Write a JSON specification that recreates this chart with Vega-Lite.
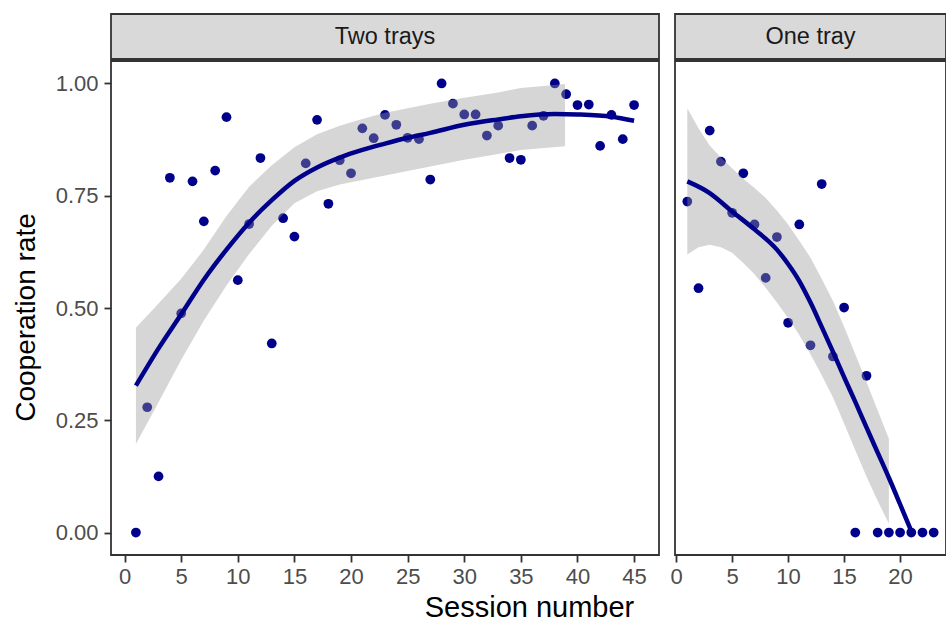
{
  "$schema": "https://vega.github.io/schema/vega-lite/v6.json",
  "padding": {"left": 11, "top": 13, "right": 0, "bottom": 0},
  "background": "white",
  "config": {
    "font": "Liberation Sans",
    "view": {"stroke": "#333333", "strokeWidth": 1.8},
    "axis": {
      "grid": false, "domain": false,
      "tickColor": "#333333", "tickWidth": 1.8, "tickSize": 7,
      "labelColor": "#4D4D4D", "labelFontSize": 22, "labelFont": "Liberation Sans",
      "titleColor": "#000000", "titleFontSize": 28, "titleFont": "Liberation Sans", "titleFontWeight": "normal"
    }
  },
  "datasets": {
    "points": [
      {"panel": "Two trays", "session": 1, "rate": 0.0},
      {"panel": "Two trays", "session": 2, "rate": 0.279},
      {"panel": "Two trays", "session": 3, "rate": 0.125},
      {"panel": "Two trays", "session": 4, "rate": 0.79},
      {"panel": "Two trays", "session": 5, "rate": 0.488},
      {"panel": "Two trays", "session": 6, "rate": 0.782},
      {"panel": "Two trays", "session": 7, "rate": 0.693},
      {"panel": "Two trays", "session": 8, "rate": 0.806},
      {"panel": "Two trays", "session": 9, "rate": 0.925},
      {"panel": "Two trays", "session": 10, "rate": 0.562},
      {"panel": "Two trays", "session": 11, "rate": 0.687},
      {"panel": "Two trays", "session": 12, "rate": 0.834},
      {"panel": "Two trays", "session": 13, "rate": 0.421},
      {"panel": "Two trays", "session": 14, "rate": 0.7},
      {"panel": "Two trays", "session": 15, "rate": 0.659},
      {"panel": "Two trays", "session": 16, "rate": 0.822},
      {"panel": "Two trays", "session": 17, "rate": 0.919},
      {"panel": "Two trays", "session": 18, "rate": 0.732},
      {"panel": "Two trays", "session": 19, "rate": 0.829},
      {"panel": "Two trays", "session": 20, "rate": 0.8},
      {"panel": "Two trays", "session": 21, "rate": 0.9},
      {"panel": "Two trays", "session": 22, "rate": 0.878},
      {"panel": "Two trays", "session": 23, "rate": 0.93},
      {"panel": "Two trays", "session": 24, "rate": 0.908},
      {"panel": "Two trays", "session": 25, "rate": 0.879},
      {"panel": "Two trays", "session": 26, "rate": 0.876},
      {"panel": "Two trays", "session": 27, "rate": 0.786},
      {"panel": "Two trays", "session": 28, "rate": 1.0},
      {"panel": "Two trays", "session": 29, "rate": 0.955},
      {"panel": "Two trays", "session": 30, "rate": 0.931},
      {"panel": "Two trays", "session": 31, "rate": 0.931},
      {"panel": "Two trays", "session": 32, "rate": 0.884},
      {"panel": "Two trays", "session": 33, "rate": 0.906},
      {"panel": "Two trays", "session": 34, "rate": 0.834},
      {"panel": "Two trays", "session": 35, "rate": 0.83},
      {"panel": "Two trays", "session": 36, "rate": 0.906},
      {"panel": "Two trays", "session": 37, "rate": 0.928},
      {"panel": "Two trays", "session": 38, "rate": 1.0},
      {"panel": "Two trays", "session": 39, "rate": 0.976},
      {"panel": "Two trays", "session": 40, "rate": 0.952},
      {"panel": "Two trays", "session": 41, "rate": 0.953},
      {"panel": "Two trays", "session": 42, "rate": 0.861},
      {"panel": "Two trays", "session": 43, "rate": 0.93},
      {"panel": "Two trays", "session": 44, "rate": 0.876},
      {"panel": "Two trays", "session": 45, "rate": 0.952},
      {"panel": "One tray", "session": 1, "rate": 0.737},
      {"panel": "One tray", "session": 2, "rate": 0.544},
      {"panel": "One tray", "session": 3, "rate": 0.895},
      {"panel": "One tray", "session": 4, "rate": 0.826},
      {"panel": "One tray", "session": 5, "rate": 0.712},
      {"panel": "One tray", "session": 6, "rate": 0.8},
      {"panel": "One tray", "session": 7, "rate": 0.686},
      {"panel": "One tray", "session": 8, "rate": 0.567},
      {"panel": "One tray", "session": 9, "rate": 0.658},
      {"panel": "One tray", "session": 10, "rate": 0.467},
      {"panel": "One tray", "session": 11, "rate": 0.686},
      {"panel": "One tray", "session": 12, "rate": 0.417},
      {"panel": "One tray", "session": 13, "rate": 0.776},
      {"panel": "One tray", "session": 14, "rate": 0.392},
      {"panel": "One tray", "session": 15, "rate": 0.501},
      {"panel": "One tray", "session": 16, "rate": 0.0},
      {"panel": "One tray", "session": 17, "rate": 0.349},
      {"panel": "One tray", "session": 18, "rate": 0.0},
      {"panel": "One tray", "session": 19, "rate": 0.0},
      {"panel": "One tray", "session": 20, "rate": 0.0},
      {"panel": "One tray", "session": 21, "rate": 0.0},
      {"panel": "One tray", "session": 22, "rate": 0.0},
      {"panel": "One tray", "session": 23, "rate": 0.0}
    ],
    "fit": [
      {"panel": "Two trays", "session": 1, "fit": 0.327},
      {"panel": "Two trays", "session": 3, "fit": 0.41},
      {"panel": "Two trays", "session": 5, "fit": 0.486},
      {"panel": "Two trays", "session": 7, "fit": 0.563},
      {"panel": "Two trays", "session": 9, "fit": 0.63},
      {"panel": "Two trays", "session": 11, "fit": 0.69},
      {"panel": "Two trays", "session": 13, "fit": 0.74},
      {"panel": "Two trays", "session": 15, "fit": 0.783},
      {"panel": "Two trays", "session": 17, "fit": 0.813},
      {"panel": "Two trays", "session": 19, "fit": 0.835},
      {"panel": "Two trays", "session": 21, "fit": 0.852},
      {"panel": "Two trays", "session": 23, "fit": 0.866},
      {"panel": "Two trays", "session": 25, "fit": 0.879},
      {"panel": "Two trays", "session": 27, "fit": 0.89},
      {"panel": "Two trays", "session": 30, "fit": 0.908},
      {"panel": "Two trays", "session": 33, "fit": 0.92},
      {"panel": "Two trays", "session": 35, "fit": 0.927},
      {"panel": "Two trays", "session": 38, "fit": 0.932},
      {"panel": "Two trays", "session": 40, "fit": 0.931},
      {"panel": "Two trays", "session": 43, "fit": 0.926},
      {"panel": "Two trays", "session": 45, "fit": 0.917},
      {"panel": "One tray", "session": 1, "fit": 0.782},
      {"panel": "One tray", "session": 3, "fit": 0.756},
      {"panel": "One tray", "session": 5, "fit": 0.715},
      {"panel": "One tray", "session": 7, "fit": 0.675},
      {"panel": "One tray", "session": 9, "fit": 0.63},
      {"panel": "One tray", "session": 10, "fit": 0.598},
      {"panel": "One tray", "session": 11, "fit": 0.56},
      {"panel": "One tray", "session": 12, "fit": 0.512},
      {"panel": "One tray", "session": 13, "fit": 0.458},
      {"panel": "One tray", "session": 14, "fit": 0.403},
      {"panel": "One tray", "session": 15, "fit": 0.346},
      {"panel": "One tray", "session": 16, "fit": 0.291},
      {"panel": "One tray", "session": 17, "fit": 0.234},
      {"panel": "One tray", "session": 18, "fit": 0.178},
      {"panel": "One tray", "session": 19, "fit": 0.122},
      {"panel": "One tray", "session": 20, "fit": 0.063},
      {"panel": "One tray", "session": 21, "fit": 0.003}
    ],
    "band": [
      {"panel": "Two trays", "session": 1, "lo": 0.197, "hi": 0.456},
      {"panel": "Two trays", "session": 3, "lo": 0.29, "hi": 0.51},
      {"panel": "Two trays", "session": 5, "lo": 0.385, "hi": 0.565},
      {"panel": "Two trays", "session": 7, "lo": 0.472, "hi": 0.63},
      {"panel": "Two trays", "session": 9, "lo": 0.55, "hi": 0.705},
      {"panel": "Two trays", "session": 11, "lo": 0.62, "hi": 0.77},
      {"panel": "Two trays", "session": 13, "lo": 0.683, "hi": 0.818},
      {"panel": "Two trays", "session": 15, "lo": 0.733, "hi": 0.858},
      {"panel": "Two trays", "session": 17, "lo": 0.76, "hi": 0.887},
      {"panel": "Two trays", "session": 19, "lo": 0.775, "hi": 0.906},
      {"panel": "Two trays", "session": 21, "lo": 0.785, "hi": 0.921},
      {"panel": "Two trays", "session": 23, "lo": 0.795, "hi": 0.935},
      {"panel": "Two trays", "session": 25, "lo": 0.805, "hi": 0.945},
      {"panel": "Two trays", "session": 27, "lo": 0.815, "hi": 0.955},
      {"panel": "Two trays", "session": 30, "lo": 0.83, "hi": 0.968},
      {"panel": "Two trays", "session": 33, "lo": 0.843, "hi": 0.98},
      {"panel": "Two trays", "session": 35, "lo": 0.852, "hi": 0.99},
      {"panel": "Two trays", "session": 38.9, "lo": 0.86, "hi": 0.999},
      {"panel": "One tray", "session": 1, "lo": 0.619, "hi": 0.945},
      {"panel": "One tray", "session": 2, "lo": 0.635, "hi": 0.9},
      {"panel": "One tray", "session": 3, "lo": 0.641, "hi": 0.862},
      {"panel": "One tray", "session": 4, "lo": 0.635, "hi": 0.835},
      {"panel": "One tray", "session": 5, "lo": 0.623, "hi": 0.811},
      {"panel": "One tray", "session": 6, "lo": 0.6, "hi": 0.788},
      {"panel": "One tray", "session": 7, "lo": 0.575, "hi": 0.767},
      {"panel": "One tray", "session": 8, "lo": 0.545, "hi": 0.745},
      {"panel": "One tray", "session": 9, "lo": 0.512, "hi": 0.717},
      {"panel": "One tray", "session": 10, "lo": 0.478, "hi": 0.686},
      {"panel": "One tray", "session": 11, "lo": 0.44, "hi": 0.65},
      {"panel": "One tray", "session": 12, "lo": 0.397, "hi": 0.612},
      {"panel": "One tray", "session": 13, "lo": 0.35, "hi": 0.565},
      {"panel": "One tray", "session": 14, "lo": 0.301, "hi": 0.516},
      {"panel": "One tray", "session": 15, "lo": 0.243, "hi": 0.458},
      {"panel": "One tray", "session": 16, "lo": 0.183, "hi": 0.397},
      {"panel": "One tray", "session": 17, "lo": 0.125, "hi": 0.335},
      {"panel": "One tray", "session": 18, "lo": 0.07, "hi": 0.272},
      {"panel": "One tray", "session": 19, "lo": 0.02, "hi": 0.209}
    ],
    "strips": [
      {"panel": "Two trays"},
      {"panel": "One tray"}
    ]
  },
  "hconcat": [
    {
      "spacing": 0,
      "vconcat": [
        {
          "width": 548, "height": 45,
          "view": {"fill": "#D9D9D9", "stroke": "#333333", "strokeWidth": 1.8},
          "data": {"name": "strips"},
          "transform": [{"filter": "datum.panel === 'Two trays'"}],
          "mark": {"type": "text", "fontSize": 23.5, "color": "#1A1A1A", "font": "Liberation Sans"},
          "encoding": {"text": {"field": "panel"}}
        },
        {
          "width": 548, "height": 494,
          "layer": [
            {
              "data": {"name": "points"},
              "transform": [{"filter": "datum.panel === 'Two trays'"}],
              "mark": {"type": "circle", "size": 95, "color": "#00008B", "opacity": 1},
              "encoding": {
                "x": {"field": "session", "type": "quantitative",
                      "scale": {"domain": [-1.2, 47.2], "nice": false, "zero": false},
                      "axis": {"values": [0,5,10,15,20,25,30,35,40,45], "title": "Session number", "titleFontSize": 29, "titleX": 418, "titlePadding": 6, "labelPadding": 4}},
                "y": {"field": "rate", "type": "quantitative",
                      "scale": {"domain": [-0.05, 1.05], "nice": false, "zero": false},
                      "axis": {"values": [0, 0.25, 0.5, 0.75, 1], "format": ".2f", "title": "Cooperation rate", "titleY": 256, "labelPadding": 6, "titlePadding": 15}}
              }
            },
            {
              "data": {"name": "band"},
              "transform": [{"filter": "datum.panel === 'Two trays'"}],
              "mark": {"type": "area", "color": "#999999", "opacity": 0.4},
              "encoding": {
                "x": {"field": "session", "type": "quantitative"},
                "y": {"field": "lo", "type": "quantitative"},
                "y2": {"field": "hi"}
              }
            },
            {
              "data": {"name": "fit"},
              "transform": [{"filter": "datum.panel === 'Two trays'"}],
              "mark": {"type": "line", "color": "#00008B", "strokeWidth": 4.5, "interpolate": "monotone"},
              "encoding": {
                "x": {"field": "session", "type": "quantitative"},
                "y": {"field": "fit", "type": "quantitative"}
              }
            }
          ]
        }
      ]
    },
    {
      "spacing": 0,
      "vconcat": [
        {
          "width": 271, "height": 45,
          "view": {"fill": "#D9D9D9", "stroke": "#333333", "strokeWidth": 1.8},
          "data": {"name": "strips"},
          "transform": [{"filter": "datum.panel === 'One tray'"}],
          "mark": {"type": "text", "fontSize": 23.5, "color": "#1A1A1A", "font": "Liberation Sans"},
          "encoding": {"text": {"field": "panel"}}
        },
        {
          "width": 271, "height": 494,
          "layer": [
            {
              "data": {"name": "points"},
              "transform": [{"filter": "datum.panel === 'One tray'"}],
              "mark": {"type": "circle", "size": 95, "color": "#00008B", "opacity": 1},
              "encoding": {
                "x": {"field": "session", "type": "quantitative",
                      "scale": {"domain": [-0.1, 24.1], "nice": false, "zero": false},
                      "axis": {"values": [0,5,10,15,20], "title": null, "labelPadding": 4}},
                "y": {"field": "rate", "type": "quantitative",
                      "scale": {"domain": [-0.05, 1.05], "nice": false, "zero": false},
                      "axis": null}
              }
            },
            {
              "data": {"name": "band"},
              "transform": [{"filter": "datum.panel === 'One tray'"}],
              "mark": {"type": "area", "color": "#999999", "opacity": 0.4},
              "encoding": {
                "x": {"field": "session", "type": "quantitative"},
                "y": {"field": "lo", "type": "quantitative"},
                "y2": {"field": "hi"}
              }
            },
            {
              "data": {"name": "fit"},
              "transform": [{"filter": "datum.panel === 'One tray'"}],
              "mark": {"type": "line", "color": "#00008B", "strokeWidth": 4.5, "interpolate": "monotone"},
              "encoding": {
                "x": {"field": "session", "type": "quantitative"},
                "y": {"field": "fit", "type": "quantitative"}
              }
            }
          ]
        }
      ]
    }
  ],
  "spacing": 9
}
